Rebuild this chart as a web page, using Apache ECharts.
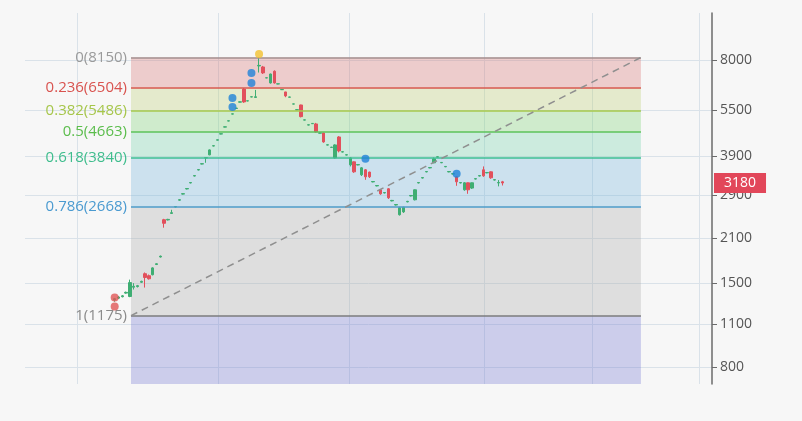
<!DOCTYPE html>
<html><head><meta charset="utf-8">
<script src="https://cdn.jsdelivr.net/npm/echarts@6/dist/echarts.min.js"></script>
<style>html,body{margin:0;padding:0;background:#f7f7f7}#c{width:802px;height:421px}</style>
</head><body><div id="c"></div>
<script>
// ---- data ----
const yTicks = [800, 1100, 1500, 2100, 2900, 3900, 5500, 8000];
const xGridTicks = [-9.9, 27.2, 61.7, 97.2, 125.6, 153.8];
const fibRatios = [0, 0.236, 0.382, 0.5, 0.618, 0.786, 1];
const fibValues = [8150, 6504, 5486, 4663, 3840, 2668, 1175];
const fibStartX = 4.3, fibEndX = 138.5;
const lastPrice = 3180;
// [open, close, low, high], one per bar index
const candles = [
 [1322,1335,1305,1342],[1340,1352,1332,1360],[1355,1364,1348,1372],[1392,1400,1385,1408],
 [1357,1506,1350,1540],[1455,1465,1430,1500],[1462,1472,1452,1480],[1510,1520,1502,1528],
 [1610,1565,1451,1625],[1586,1550,1540,1600],[1598,1682,1590,1690],[1725,1735,1718,1742],
 [1825,1836,1818,1845],[2414,2350,2274,2430],[2410,2420,2400,2430],[2530,2545,2520,2600],
 [2655,2665,2645,2675],[2795,2805,2785,2815],[2925,2935,2915,2945],[3040,3050,3030,3060],
 [3180,3190,3170,3200],[3350,3360,3340,3370],[3505,3515,3495,3525],[3665,3675,3655,3685],
 [3835,3845,3700,3855],[3926,4075,3915,4090],[4195,4205,4185,4215],[4385,4395,4375,4405],
 [4590,4600,4580,4610],[4835,4845,4825,4855],[5060,5070,5050,5080],[5330,5340,5320,5350],
 [5560,5575,5550,5585],[5830,5845,5820,5855],[6430,5840,5800,6480],[5880,5890,5870,5900],
 [6060,6070,6050,6080],[6040,6070,6020,6390],[7650,7680,7280,8150],[7590,7260,7200,7650],
 [6990,7000,6980,7010],[6734,7200,6700,7220],[7350,6734,6700,7400],[6680,6690,6670,6700],
 [6400,6410,6390,6420],[6294,6110,6050,6300],[6050,6060,6040,6070],[5745,5755,5735,5765],
 [5500,5510,5490,5520],[5708,5230,5200,5720],[5095,5105,5085,5115],[4910,4920,4900,4930],
 [4960,4970,4950,4980],[4951,4663,4640,4990],[4620,4630,4610,4640],[4628,4326,4300,4640],
 [4225,4235,4215,4245],[4150,4160,4140,4170],[3838,4230,3820,4250],[4490,4045,4000,4520],
 [4010,4020,4000,4030],[3920,3930,3910,3940],[3643,3838,3600,3860],[3726,3457,3430,3740],
 [3640,3650,3630,3660],[3381,3562,3350,3580],[3510,3330,3256,3530],[3450,3330,3300,3460],
 [3205,3215,3195,3225],[3110,3120,3100,3130],[3021,2932,2910,3040],[2950,2960,2940,2970],
 [3044,2845,2820,3060],[2780,2790,2770,2800],[2695,2705,2685,2715],[2506,2641,2490,2660],
 [2560,2650,2540,2660],[2760,2770,2750,2780],[2885,2895,2875,2905],[2803,3021,2790,3030],
 [3180,3190,3170,3200],[3300,3310,3290,3320],[3455,3465,3445,3475],[3560,3570,3550,3580],
 [3698,3810,3690,3850],[3860,3870,3850,3880],[3700,3710,3690,3720],[3590,3600,3580,3610],
 [3455,3465,3445,3475],[3400,3410,3390,3420],[3330,3208,3113,3340],[3180,3190,3170,3200],
 [3021,3184,3000,3200],[3184,3021,2932,3190],[3060,3184,3040,3190],[3275,3285,3265,3295],
 [3350,3360,3340,3370],[3510,3355,3330,3600],[3430,3440,3420,3450],[3457,3306,3280,3470],
 [3250,3260,3240,3270],[3180,3190,3100,3250],[3208,3180,3120,3230]
];
const redDots = [[0, 1347], [0, 1259]];
const blueDots = [[31, 6016], [31, 5623], [36, 7258], [36, 6734], [66, 3810], [90, 3406]];
const yellowDots = [[38, 8368]];

// ---- styles ----
const yMin = 704, yMax = 11378;
const lineColors = ['#a39191', '#d9564f', '#a9c84e', '#5cc35a', '#3fbf94', '#4b9ccb', '#7d7d7d'];
const labelColors = ['#9a9a9a', '#d9534f', '#a6c64a', '#5bbd4c', '#3fbd8d', '#4a9ad0', '#8a8a8a'];
const bandColors = ['rgba(214,107,107,0.3)', 'rgba(184,204,107,0.3)', 'rgba(117,210,107,0.3)',
  'rgba(107,210,164,0.3)', 'rgba(107,177,217,0.3)', 'rgba(167,167,167,0.3)', 'rgba(107,110,210,0.3)'];
const FONT = '"Open Sans", "Noto Sans", sans-serif';

const bandData = fibValues.map((v, i) => {
  const next = i < fibValues.length - 1 ? fibValues[i + 1] : yMin;
  return [{ coord: [fibStartX, v], itemStyle: { color: bandColors[i] } }, { coord: [fibEndX, next] }];
});
const levelLines = fibValues.map((v, i) => [
  { coord: [fibStartX, v], lineStyle: { color: lineColors[i], width: 1.5, type: 'solid' },
    label: { show: true, position: 'start', formatter: fibRatios[i] + '(' + v + ')', color: labelColors[i],
      fontSize: 15, fontFamily: FONT, distance: 4 } },
  { coord: [fibEndX, v] }
]);
levelLines.push([
  { coord: [fibStartX, fibValues[fibValues.length - 1]], lineStyle: { color: '#8f8f8f', width: 1.5, type: [7, 5] }, label: { show: false } },
  { coord: [fibEndX, fibValues[0]] }
]);

const chart = echarts.init(document.getElementById('c'), null, { renderer: 'canvas' });
chart.setOption({
  backgroundColor: '#f7f7f7',
  animation: false,
  grid: { left: 25, right: 90, top: 13, bottom: 37, containLabel: false },
  xAxis: {
    type: 'value', min: -23.6, max: 157.2,
    axisLine: { show: false }, axisLabel: { show: false },
    axisTick: { show: false, customValues: xGridTicks },
    splitLine: { show: true, lineStyle: { color: '#dae2e9', width: 1 } }
  },
  yAxis: {
    type: 'log', logBase: 10, min: yMin, max: yMax, position: 'right',
    axisLine: { show: true, onZero: false, lineStyle: { color: '#6b6b6b', width: 1.5 } },
    axisTick: { show: true, length: 5, customValues: yTicks, lineStyle: { color: '#6b6b6b' } },
    axisLabel: { customValues: yTicks, color: '#555', fontSize: 14, fontFamily: FONT, margin: 8,
      formatter: v => String(Math.round(v)) },
    splitLine: { show: true, lineStyle: { color: '#dae2e9', width: 1 } }
  },
  series: [
    {
      type: 'line', data: [], z: 1, silent: true,
      markArea: { silent: true, data: bandData },
      markLine: { silent: true, symbol: 'none', animation: false, data: levelLines }
    },
    {
      type: 'candlestick', z: 3, barWidth: 3,
      data: candles.map((c, i) => [i, c[0], c[1], c[2], c[3]]),
      encode: { x: 0, y: [1, 2, 3, 4] },
      itemStyle: { color: '#3fae73', color0: '#e2505c', borderColor: '#3fae73', borderColor0: '#e2505c', borderWidth: 1 },
      markLine: {
        silent: true, symbol: 'none',
        lineStyle: { color: 'rgba(0,0,0,0)', width: 0 },
        label: { show: true, position: 'end', formatter: String(lastPrice), color: '#fff', backgroundColor: '#e2475a',
          fontSize: 14, fontFamily: FONT, padding: [3, 10, 3, 10], distance: 2 },
        data: [{ yAxis: lastPrice }]
      }
    },
    { type: 'scatter', z: 5, symbolSize: 8, data: redDots, itemStyle: { color: '#e05656' } },
    { type: 'scatter', z: 5, symbolSize: 8, data: blueDots, itemStyle: { color: '#1f82d8' } },
    { type: 'scatter', z: 5, symbolSize: 8, data: yellowDots, itemStyle: { color: '#f2c12e' } }
  ]
});
</script>
</body></html>
